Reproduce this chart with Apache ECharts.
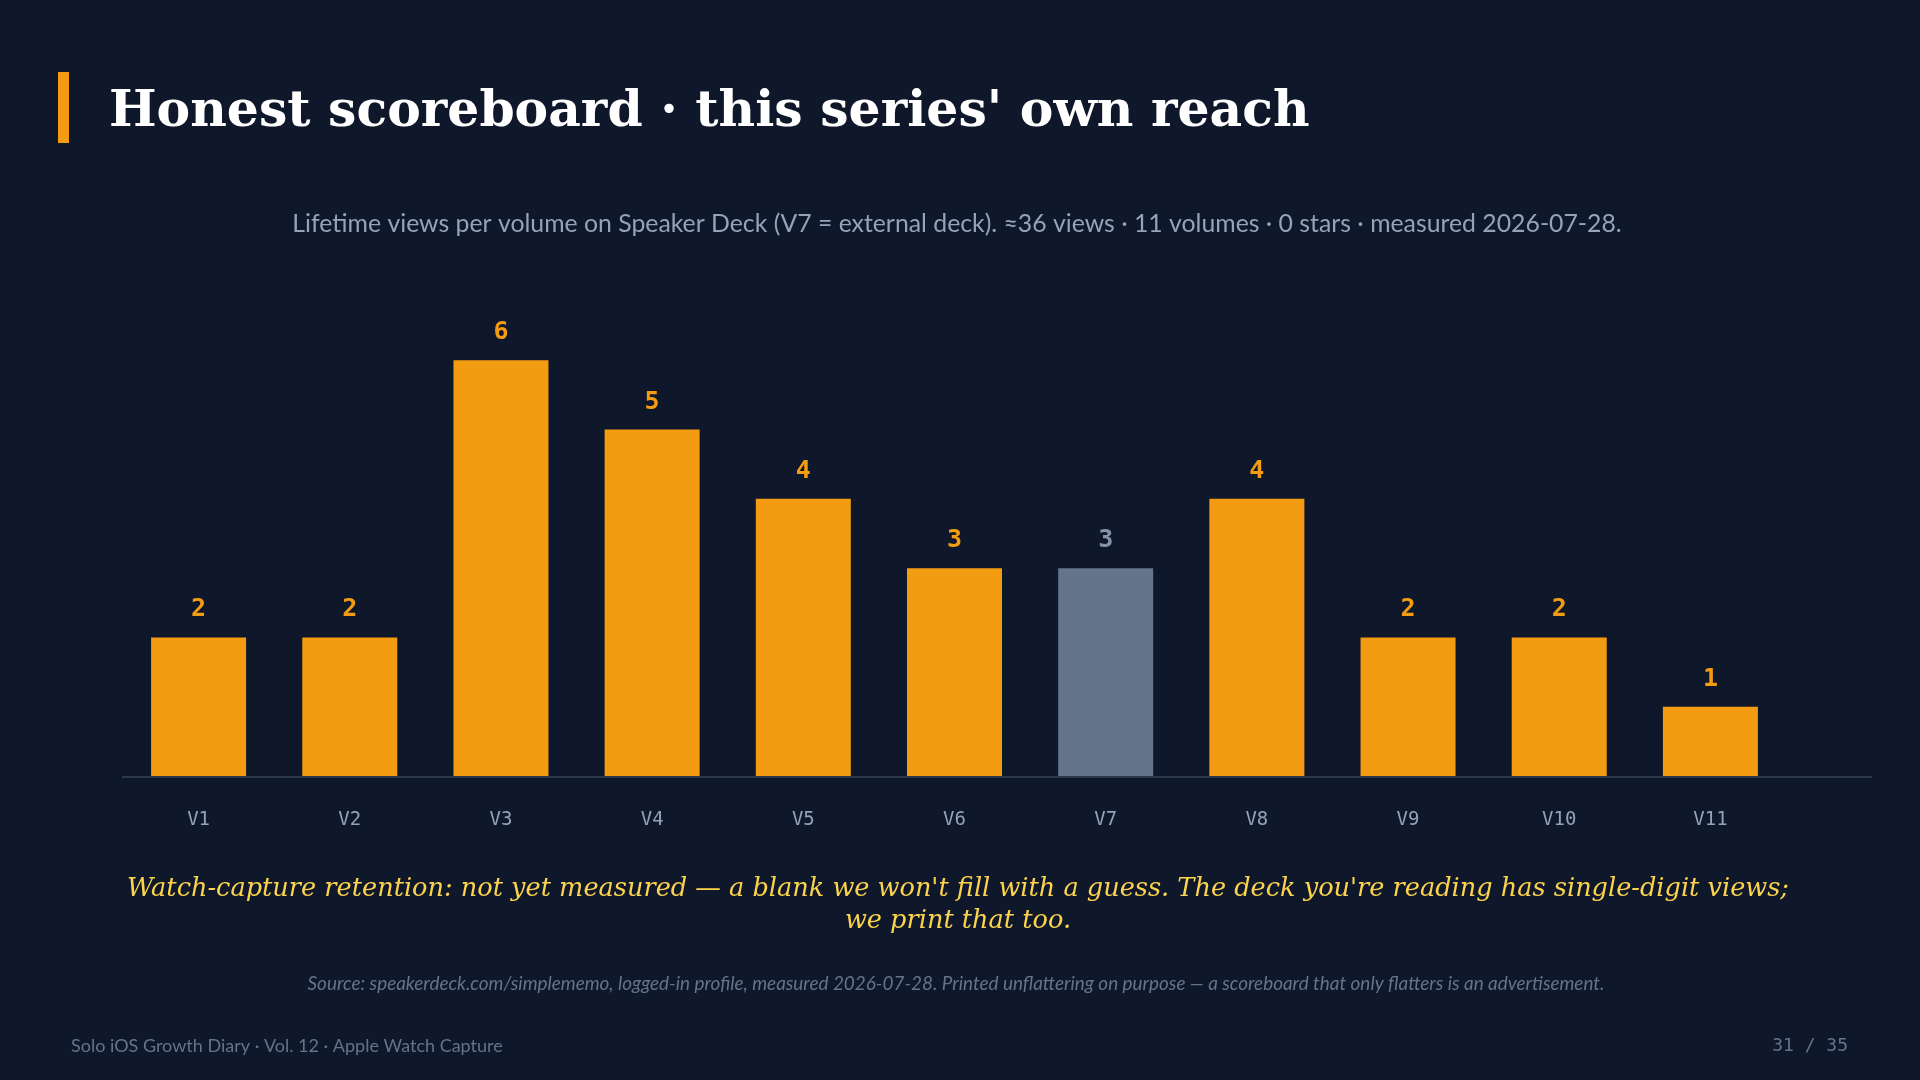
<!DOCTYPE html>
<html lang="en">
<head>
    <meta charset="UTF-8">
    <title>Honest scoreboard</title>
    <script src="https://cdn.jsdelivr.net/npm/echarts@6/dist/echarts.min.js"></script>
    <style>
        html, body {
            margin: 0;
            padding: 0;
            background: #0f172a;
        }
        #chart {
            width: 1920px;
            height: 1080px;
        }
    </style>
</head>
<body>
<div id="chart"></div>
<script>
    // Lifetime views per volume
    const volumes = ['V1', 'V2', 'V3', 'V4', 'V5', 'V6', 'V7', 'V8', 'V9', 'V10', 'V11'];
    const views = [2, 2, 6, 5, 4, 3, 3, 4, 2, 2, 1];
    const externalVolume = 'V7';

    const ORANGE = '#f39c12';
    const SLATE = '#64748b';

    const chart = echarts.init(document.getElementById('chart'));

    // V7 is the external deck, drawn in grey
    const barData = views.map((v, i) => {
        const external = volumes[i] === externalVolume;
        return {
            value: v,
            itemStyle: { color: external ? SLATE : ORANGE },
            label: { color: external ? '#8593a8' : ORANGE }
        };
    });

    const options = {
        backgroundColor: '#0f172a',
        animation: false,
        grid: {
            left: 123,
            width: 1663,
            top: 291,
            bottom: 304
        },
        xAxis: {
            type: 'category',
            data: volumes,
            axisLine: { show: false },
            axisTick: { show: false },
            axisLabel: {
                margin: 35,
                color: '#94a3b8',
                fontFamily: 'DejaVu Sans Mono',
                fontSize: 19
            }
        },
        yAxis: {
            type: 'value',
            min: 0,
            max: 7,
            show: false
        },
        series: [
            {
                type: 'bar',
                data: barData,
                barWidth: 95,
                label: {
                    show: true,
                    position: 'top',
                    distance: 15,
                    fontFamily: 'DejaVu Sans Mono',
                    fontWeight: 'bold',
                    fontSize: 25
                }
            }
        ],
        graphic: [
            // accent bar next to the title
            { type: 'rect', shape: { x: 58, y: 72, width: 11, height: 71 }, style: { fill: ORANGE } },
            {
                type: 'text', x: 109, y: 113,
                style: {
                    text: "Honest scoreboard · this series' own reach",
                    fill: '#ffffff',
                    font: 'bold 50.4px "DejaVu Serif"',
                    textVerticalAlign: 'middle'
                }
            },
            {
                type: 'text', x: 957, y: 224,
                style: {
                    text: 'Lifetime views per volume on Speaker Deck (V7 = external deck). ≈36 views · 11 volumes · 0 stars · measured 2026-07-28.',
                    fill: '#94a3b8',
                    font: '24.8px Lato',
                    textAlign: 'center',
                    textVerticalAlign: 'middle'
                }
            },
            // baseline, runs past the last bar
            {
                type: 'line',
                shape: { x1: 122, y1: 777, x2: 1872, y2: 777 },
                style: { stroke: '#2c384b', lineWidth: 2 }
            },
            {
                type: 'text', x: 958, y: 905,
                style: {
                    text: "Watch-capture retention: not yet measured — a blank we won't fill with a guess. The deck you're reading has single-digit views;\nwe print that too.",
                    fill: '#fcd34d',
                    font: 'italic 25.6px "DejaVu Serif"',
                    lineHeight: 32,
                    textAlign: 'center',
                    textVerticalAlign: 'middle'
                }
            },
            {
                type: 'text', x: 956, y: 984,
                style: {
                    text: 'Source: speakerdeck.com/simplememo, logged-in profile, measured 2026-07-28. Printed unflattering on purpose — a scoreboard that only flatters is an advertisement.',
                    fill: '#64748b',
                    font: 'italic 18.9px Lato',
                    textAlign: 'center',
                    textVerticalAlign: 'middle'
                }
            },
            {
                type: 'text', x: 71, y: 1046,
                style: {
                    text: 'Solo iOS Growth Diary · Vol. 12 · Apple Watch Capture',
                    fill: '#64748b',
                    font: '18px Lato',
                    textVerticalAlign: 'middle'
                }
            },
            {
                type: 'text', x: 1848, y: 1046,
                style: {
                    text: '31 / 35',
                    fill: '#64748b',
                    font: '18px "DejaVu Sans Mono"',
                    textAlign: 'right',
                    textVerticalAlign: 'middle'
                }
            }
        ]
    };

    chart.setOption(options);
</script>
</body>
</html>
